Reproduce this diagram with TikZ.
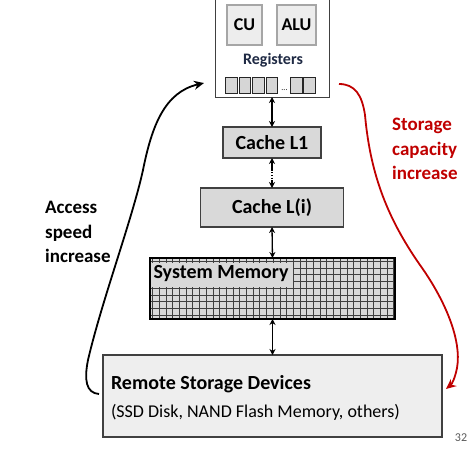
\documentclass[tikz,border=0pt]{standalone}
\usepackage{fontspec}
\setmainfont{Carlito}
\usetikzlibrary{arrows.meta}
\definecolor{boxline}{HTML}{404040}
\definecolor{cachefill}{HTML}{D9D9D9}
\definecolor{remfill}{HTML}{EEEEEE}
\definecolor{cufill}{HTML}{EDEDED}
\definecolor{cuedge}{HTML}{A6A6A6}
\definecolor{regfill}{HTML}{D6D6D6}
\definecolor{darkred}{HTML}{C00000}
\definecolor{navy}{HTML}{1F2A44}
\definecolor{pagenum}{HTML}{595959}
\tikzset{
  bx/.style={inner sep=0pt, outer sep=0pt},
  cpubox/.style={bx, draw=boxline, line width=0.9pt, fill=white},
  unitbox/.style={bx, draw=cuedge, line width=1.3pt, fill=cufill, font=\fontsize{18}{21}\selectfont\bfseries},
  regcell/.style={bx, draw=black!85, line width=1.2pt, fill=regfill, minimum width=11.5pt, minimum height=16pt},
  cachebox/.style={bx, draw=boxline, line width=1.8pt, fill=cachefill, font=\fontsize{20}{23}\selectfont\bfseries},
  rembox/.style={bx, draw=boxline, line width=1.8pt, fill=remfill},
  dbl/.style={{Stealth[length=6pt,width=6pt]}-{Stealth[length=6pt,width=6pt]}, line width=1.3pt, black},
  curvearrow/.style={-{Stealth[length=10pt,width=9pt]}, line width=1.8pt},
  sidetext/.style={anchor=north west, align=left, inner sep=0pt, font=\fontsize{19}{24.5}\selectfont\bfseries},
}
\begin{document}
\begin{tikzpicture}[x=1pt,y=-1pt]
\useasboundingbox (0,0) rectangle (475,451);

% CPU
\node[cpubox, minimum width=114pt, minimum height=100pt] (cpu) at (272,47) {};
\node[unitbox, minimum width=35pt, minimum height=40pt] (cu) at (244.5,25) {CU};
\node[unitbox, minimum width=39pt, minimum height=40pt] (alu) at (296.5,25) {ALU};
\node[bx, font=\fontsize{16}{18}\selectfont\bfseries, text=navy] (regs) at (273,60) {Registers};
\node[regcell] (r1) at (231.5,85.5) {};
\node[regcell] (r2) at (245,85.5) {};
\node[regcell] (r3) at (258.5,85.5) {};
\node[regcell] (r4) at (272,85.5) {};
\node[bx, font=\fontsize{8}{9}\selectfont] (rdots) at (284.5,90) {...};
\node[regcell] (r5) at (296.5,85.5) {};
\node[regcell] (r6) at (309.5,85.5) {};

% caches
\node[cachebox, minimum width=98pt, minimum height=31pt] (l1) at (272,142.5) {Cache L1};
\node[cachebox, minimum width=143pt, minimum height=39pt] (li) at (272,207.5) {Cache L(i)};

% system memory
\node[bx, fill=cachefill, minimum width=245pt, minimum height=61pt] (mem) at (272.5,288.5) {};
\begin{scope}
  \clip (mem.north west) rectangle (mem.south east);
  \foreach \gx in {0,...,36} {
    \draw[boxline, line width=1pt] (152.7+\gx*6.7,258) -- (152.7+\gx*6.7,319);
  }
  \foreach \gy in {0,...,8} {
    \draw[boxline, line width=1pt] (150,261.5+\gy*6.7) -- (395,261.5+\gy*6.7);
  }
\end{scope}
\fill[cachefill] (151,263) rectangle (293,286.5);
\node[bx, anchor=west, font=\fontsize{20}{23}\selectfont\bfseries] (memlabel) at (153.5,273.5) {System Memory};
\draw[black, line width=1.8pt] (mem.north west) rectangle (mem.south east);

% remote storage
\node[rembox, minimum width=339pt, minimum height=82pt] (rem) at (272.5,396) {};
\node[bx, anchor=west, font=\fontsize{20}{23}\selectfont\bfseries] (remtitle) at (111,384) {Remote Storage Devices};
\node[bx, anchor=west, font=\fontsize{18}{21}\selectfont] (remsub) at (111,412) {(SSD Disk, NAND Flash Memory, others)};

% connectors
\draw[dbl] (cpu.south) -- (l1.north);
\draw[dbl, dash pattern=on 9pt off 1.6pt on 1.1pt off 1.6pt on 1.1pt off 1.6pt on 1.1pt off 1.6pt on 20pt] (l1.south) -- (li.north);
\draw[dbl] (li.south) -- (mem.north);
\draw[dbl] (mem.south) -- (rem.north);

% side arrows
\coordinate (bstart) at (99,394);
\coordinate (bend) at (204,83);
\draw[curvearrow, black] (bstart) .. controls (86,393) and (84,380) .. (88,360)
   .. controls (102,300) and (132,220) .. (143,170)
   .. controls (152,125) and (165,92) .. (bend);
\coordinate (rstart) at (339,84);
\coordinate (rend) at (446,389);
\draw[curvearrow, darkred] (rstart) .. controls (355,84) and (362,95) .. (365,115)
   .. controls (370,170) and (385,215) .. (420,265)
   .. controls (445,300) and (462,340) .. (457,368)
   .. controls (455,378) and (452,384) .. (rend);

\node[sidetext] (speed) at (45,201) {Access\\speed\\increase};
\node[sidetext, text=darkred] (cap) at (392,118) {Storage\\capacity\\increase};

\node[bx, font=\fontsize{12}{14}\selectfont, text=pagenum] (pnum) at (461,438) {32};
\end{tikzpicture}
\end{document}
